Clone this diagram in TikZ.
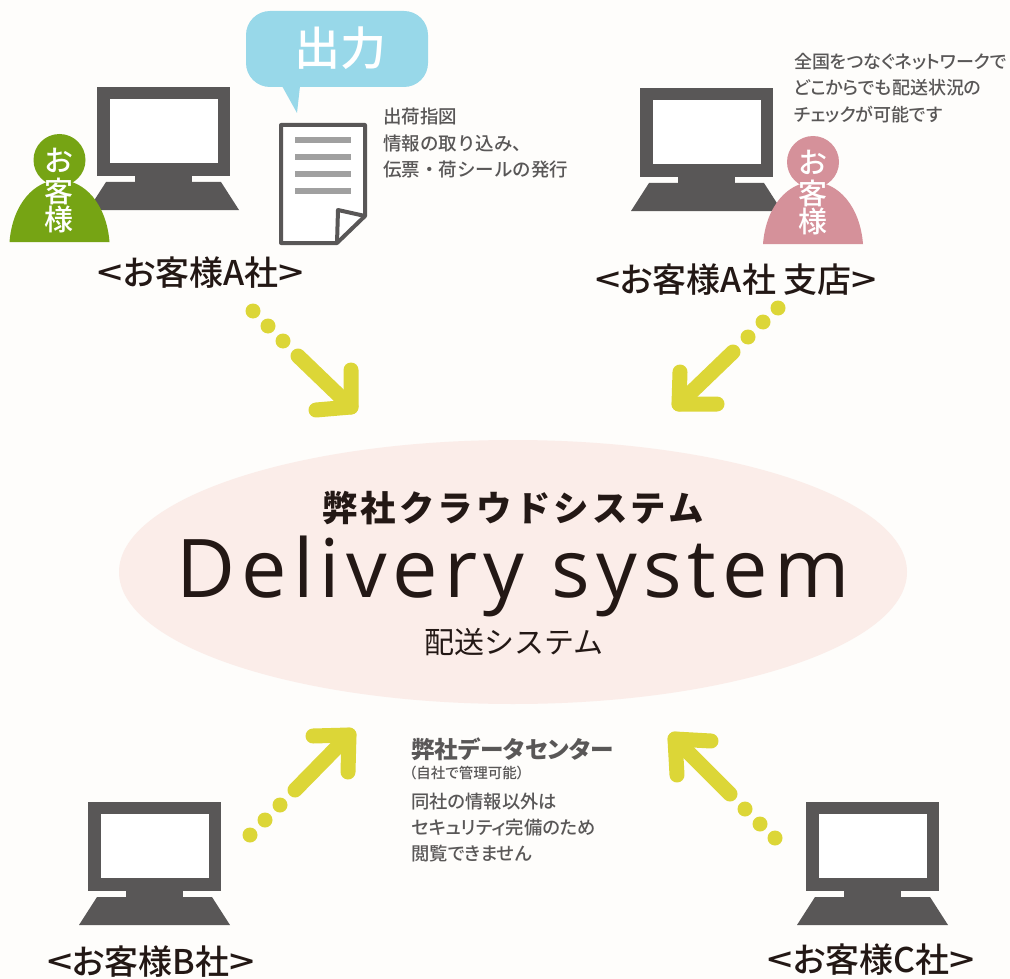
\documentclass[tikz,border=0pt]{standalone}
\usepackage{graphicx}
\usepackage{fontspec}
\setmainfont{Noto Sans CJK JP Medium}
\newfontfamily\reg{Noto Sans CJK JP}
\newfontfamily\pj[RawFeature=+palt]{Noto Sans CJK JP Medium}
\newfontfamily\titlef[LetterSpace=9]{Noto Sans CJK JP Black}
\newfontfamily\dcf[RawFeature=+palt]{Noto Sans CJK JP Black}
\newfontfamily\latf[LetterSpace=7.5]{Open Sans}
\newcommand{\fsz}[2]{\fontsize{#1}{#2}\selectfont}
\newcommand{\wlt}{\scalebox{1.3}[1]{<}}
\newcommand{\wgt}{\scalebox{1.3}[1]{>}}
\definecolor{bg}{HTML}{FEFDFB}
\definecolor{mon}{HTML}{595757}
\definecolor{ink}{HTML}{231815}
\definecolor{ell}{HTML}{FBEDE9}
\definecolor{arr}{HTML}{DCD637}
\definecolor{grn}{HTML}{76A414}
\definecolor{pnk}{HTML}{D5919A}
\definecolor{blu}{HTML}{98D8E9}
\definecolor{lin}{HTML}{A0A0A0}
\tikzset{
  x=1pt,y=-1pt,
  dotn/.style={circle,fill=arr,inner sep=0pt,minimum size=15pt},
  arrow line/.style={draw=arr,line width=15pt,line cap=round,line join=round},
  company/.style={text=ink,font=\pj\fsz{34}{38}},
  note/.style={text=mon,font=\fsz{18.5}{26.2},align=left,anchor=north west,inner sep=0pt},
  person text/.style={text=white,font=\fsz{29}{30},inner sep=0pt},
  monitor/.pic={
    \fill[mon] (0,0) rectangle (133,89);
    \fill[white] (13,12) rectangle (121,76);
    \fill[mon] (38,89) rectangle (95,95);
    \fill[mon] (9,95) -- (124,95) -- (142,123) -- (-9,123) -- cycle;
  },
  person/.pic={
    \fill[pic actions] (0,-82) circle (26);
    \fill[pic actions] (-50,0) .. controls (-47,-38) and (-25,-62) .. (0,-62) .. controls (25,-62) and (47,-38) .. (50,0) -- cycle;
  }
}
\begin{document}
\begin{tikzpicture}
\useasboundingbox (0,0) rectangle (1010,979);
\fill[bg] (0,0) rectangle (1010,979);

% central ellipse
\fill[ell] (513,572) ellipse [x radius=394,y radius=132];
\node[text=ink,font=\titlef\fsz{35.4}{40}] (title) at (513,508) {弊社クラウドシステム};
\node[text=ink,font=\latf\fsz{81}{90},anchor=base] (sys) at (513,597) {Delivery system};
\node[text=ink,font=\reg\fsz{30}{34}] (jp) at (514,642) {配送システム};

% A
\pic at (97,87) {monitor};
\pic[fill=grn] at (59.5,242) {person};
\node[person text] (pa1) at (59.5,160) {お};
\node[person text] (pa2) at (59.5,191) {客};
\node[person text] (pa3) at (59.5,219) {様};
\node[company] (la) at (201,273) {\wlt お客様A社\wgt};

% bubble
\fill[blu,rounded corners=24pt] (246,11) rectangle (428,87);
\fill[blu] (282,86) -- (297,113) -- (300,86) -- cycle;
\node[text=white,font=\fsz{46}{50}] (out) at (340,48) {出力};
% document
\draw[mon,line width=4pt,line join=round,fill=white] (281,125) -- (365,125) -- (365,216) -- (337,243) -- (281,243) -- cycle;
\draw[mon,line width=4pt,line join=round] (337,243) -- (338,210) -- (365,216);
\foreach \yy in {140,157,174,191} \fill[lin] (295,\yy-3) rectangle (351,\yy+3);
\node[note] (na) at (383,108) {出荷指図\\情報の取り込み、\\伝票・荷シールの発行};

% A branch
\pic at (640,88) {monitor};
\pic[fill=pnk] at (813,244) {person};
\node[person text] (pb1) at (813,162) {お};
\node[person text] (pb2) at (813,193) {客};
\node[person text] (pb3) at (813,221) {様};
\node[company] (lb) at (736,280) {\wlt お客様A社 支店\wgt};
\node[note,font=\pj\fsz{18}{26.5}] (nb) at (794,53) {全国をつなぐネットワークで\\どこからでも配送状況の\\チェックが可能です};

% B, C
\pic at (88,802) {monitor};
\node[company] (lc) at (151,962) {\wlt お客様B社\wgt};
\pic at (806,802) {monitor};
\node[company] (ld) at (871,960) {\wlt お客様C社\wgt};

% data centre note
\node[text=mon,font=\dcf\fsz{23.6}{26},anchor=west,inner sep=0pt] (dc) at (411,749) {弊社データセンター};
\node[text=mon,font=\pj\fsz{14.5}{16},anchor=west,inner sep=0pt] (dc2) at (409,773) {（自社で管理可能）};
\node[note,font=\pj\fsz{18.3}{26}] (dc3) at (411,793) {同社の情報以外は\\セキュリティ完備のため\\閲覧できません};

% arrows
\node[dotn] (d11) at (253,311) {}; \node[dotn] (d12) at (268,326) {}; \node[dotn] (d13) at (283,341) {};
\coordinate (s1) at (298,356); \coordinate (c1) at (351,407); \coordinate (h1a) at (351,370); \coordinate (h1b) at (316,410);
\draw[arrow line] (s1) -- (c1); \draw[arrow line] (h1a) -- (c1) -- (h1b);

\node[dotn] (d21) at (778,308) {}; \node[dotn] (d22) at (763,322) {}; \node[dotn] (d23) at (748,337) {};
\coordinate (s2) at (733,352); \coordinate (c2) at (679,404); \coordinate (h2a) at (680,372); \coordinate (h2b) at (717,404);
\draw[arrow line] (s2) -- (c2); \draw[arrow line] (h2a) -- (c2) -- (h2b);

\node[dotn] (d31) at (250,835) {}; \node[dotn] (d32) at (265,820) {}; \node[dotn] (d33) at (280,805) {};
\coordinate (s3) at (295,790); \coordinate (c3) at (349,735); \coordinate (h3a) at (313,736); \coordinate (h3b) at (348,772);
\draw[arrow line] (s3) -- (c3); \draw[arrow line] (h3a) -- (c3) -- (h3b);

\node[dotn] (d41) at (775,838) {}; \node[dotn] (d42) at (760,824) {}; \node[dotn] (d43) at (745,809) {};
\coordinate (s4) at (730,794); \coordinate (c4) at (675,739); \coordinate (h4a) at (711,741); \coordinate (h4b) at (677,775);
\draw[arrow line] (s4) -- (c4); \draw[arrow line] (h4a) -- (c4) -- (h4b);
\end{tikzpicture}
\end{document}
